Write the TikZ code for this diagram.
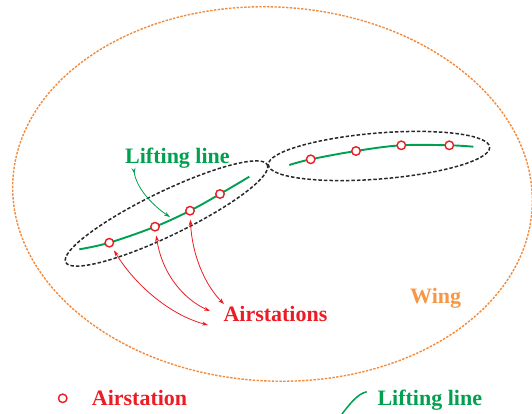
\documentclass[tikz,border=0pt]{standalone}
\usepackage{fontspec}
\setmainfont{Liberation Serif}
\usetikzlibrary{arrows.meta}
\definecolor{llgreen}{RGB}{0,160,80}
\definecolor{asred}{RGB}{237,28,36}
\definecolor{wingorange}{RGB}{247,150,70}
\definecolor{wingline}{RGB}{243,138,60}
\definecolor{dashgray}{RGB}{40,40,40}
\begin{document}
\begin{tikzpicture}[x=1pt,y=-1pt,
  station/.style={circle,draw=asred,line width=1.4pt,fill=white,inner sep=0pt,minimum size=8.5pt},
  liftline/.style={draw=llgreen,line width=1.9pt},
  groupell/.style={draw=dashgray,line width=1.5pt,dash pattern=on 3.5pt off 2pt},
  wingell/.style={draw=wingline,line width=1.4pt,dash pattern=on 2.4pt off 1.4pt},
  lbl/.style={font=\fontsize{22}{26}\selectfont\bfseries,inner sep=0pt},
  redarrow/.style={draw=asred,line width=0.8pt,shorten <=4pt,
    {Stealth[length=6pt,width=4pt]}-{Stealth[length=6pt,width=4pt]}},
  greenarrow/.style={draw=llgreen,line width=0.8pt,
    {Stealth[length=6pt,width=4pt,reversed]}-{Stealth[length=6pt,width=4pt]}}
]
\useasboundingbox (0,0) rectangle (532,413);

% wing
\draw[wingell, rotate around={-3:(272.5,194)}] (272.5,194) ellipse [x radius=260, y radius=187];

% group ellipses
\draw[groupell, rotate around={25.8:(166.5,213.5)}] (166.5,213.5) ellipse [x radius=112, y radius=22];
\draw[groupell, rotate around={4.6:(379,156)}] (379,156) ellipse [x radius=111, y radius=23];

% lifting lines
\draw[liftline] plot[smooth, tension=0.6] coordinates {(79.3,249.3) (109.3,242.7) (155,226.7) (190,210.7) (220,194) (249.3,176.7)};
\draw[liftline] plot[smooth, tension=0.6] coordinates {(289.3,165) (310.7,159.3) (356,151) (401.3,145.3) (449.3,145.3) (473.3,146.7)};

% airstations
\node[station] (s1) at (109.3,242.7) {};
\node[station] (s2) at (155,226.7) {};
\node[station] (s3) at (190,210.7) {};
\node[station] (s4) at (220,194) {};
\node[station] (t1) at (310.7,159.3) {};
\node[station] (t2) at (356,151) {};
\node[station] (t3) at (401.3,145.3) {};
\node[station] (t4) at (449.3,145.3) {};

% labels
\node[lbl, text=llgreen, anchor=base west] (lltext) at (125,163.3) {Lifting line};
\node[lbl, text=asred, anchor=base west] (astext) at (223.3,321.7) {Airstations};
\node[lbl, text=wingorange, anchor=base west] (wingtext) at (410,303.3) {Wing};

% green arrow
\coordinate (g0) at (133.5,168);
\coordinate (g1) at (170,217);
\draw[greenarrow] (g0) .. controls (137,190) and (155,207) .. (g1);

% red arrows
\coordinate (r1) at (208,325);
\coordinate (r2) at (210,311);
\coordinate (r3) at (224,304);
\draw[redarrow] (s1) .. controls (135,285) and (170,315) .. (r1);
\draw[redarrow] (s2) .. controls (162,275) and (185,300) .. (r2);
\draw[redarrow] (s3) .. controls (192,255) and (205,285) .. (r3);

% legend
\node[station] (legs) at (62.7,398.3) {};
\node[lbl, text=asred, anchor=base west] (legas) at (91.7,405) {Airstation};
\coordinate (la) at (342,414);
\coordinate (lb) at (366.7,391.7);
\draw[liftline, line width=1.5pt] (la) .. controls (349,405) and (357,394) .. (lb);
\node[lbl, text=llgreen, anchor=base west] (legll) at (377.3,405) {Lifting line};
\end{tikzpicture}
\end{document}
